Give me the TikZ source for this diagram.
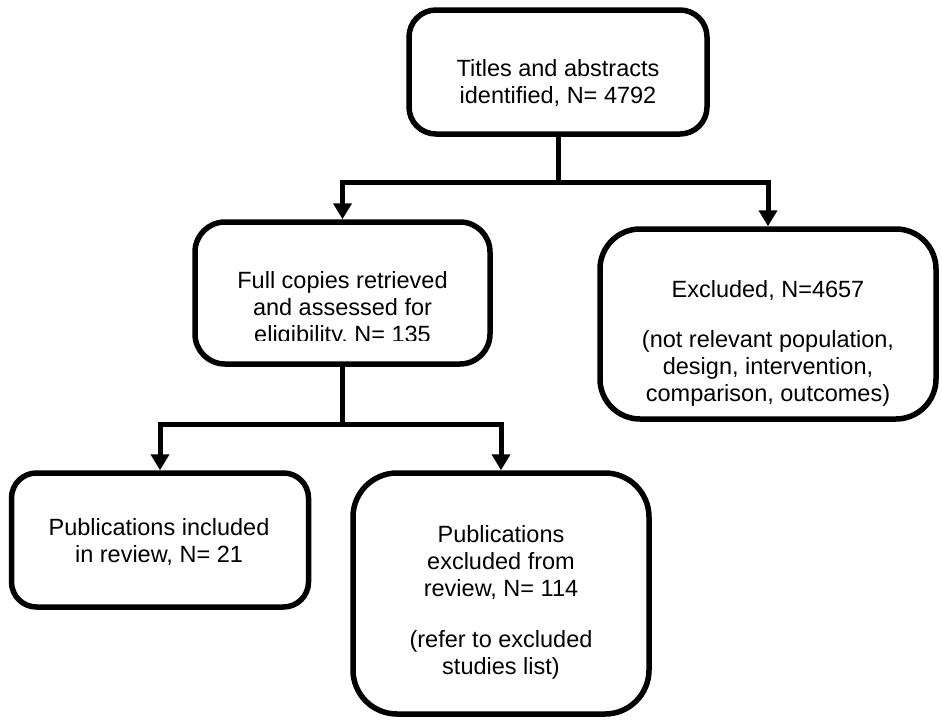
\documentclass[tikz,border=0pt]{standalone}
\usepackage{fontspec}
\setmainfont{Liberation Sans}
\usetikzlibrary{arrows.meta}
\begin{document}
\begin{tikzpicture}[x=1pt,y=-1pt,
  box/.style={draw=black, line width=5.5pt, fill=white, inner sep=0pt},
  txt/.style={align=center, inner sep=0pt, anchor=north, font=\fontsize{23.5}{27}\selectfont},
  conn/.style={line width=5pt},
  arr/.style={line width=5pt, -{Triangle[width=18pt,length=16pt]}}]
\useasboundingbox (0,0) rectangle (942,720);
% boxes
\node[box, rounded corners=27pt, minimum width=298pt, minimum height=124pt] (top) at (558,72) {};
\node[box, rounded corners=30pt, minimum width=295pt, minimum height=142pt] (full) at (342.5,293) {};
\node[box, rounded corners=40pt, minimum width=336pt, minimum height=190pt] (excl) at (768,324) {};
\node[box, rounded corners=25pt, minimum width=297pt, minimum height=134pt] (incl) at (160,540) {};
\node[box, rounded corners=44pt, minimum width=296pt, minimum height=241pt] (pubex) at (501,593.5) {};
% texts
\node[txt] (ttop) at (558,59) {Titles and abstracts\\identified, N= 4792};
\begin{scope}
\clip (195,222) rectangle (490,340);
\node[txt] (tfull) at (342.5,271) {Full copies retrieved\\and assessed for\\eligibility, N= 135};
\end{scope}
\node[txt] (texcl) at (768,280) {Excluded, N=4657\\[23pt](not relevant population,\\design, intervention,\\comparison, outcomes)};
\node[txt] (tincl) at (159,518) {Publications included\\in review, N= 21};
\node[txt] (tpubex) at (501,525) {Publications\\excluded from\\review, N= 114\\[24pt](refer to excluded\\studies list)};
% connectors
\draw[conn] (top.south) -- ++(0,46) coordinate (j1);
\draw[arr] (j1) -| (full.north);
\draw[arr] (j1) -| (excl.north);
\draw[conn] (full.south) -- ++(0,58) coordinate (j2);
\draw[arr] (j2) -| (incl.north);
\draw[arr] (j2) -| (pubex.north);
\end{tikzpicture}
\end{document}
